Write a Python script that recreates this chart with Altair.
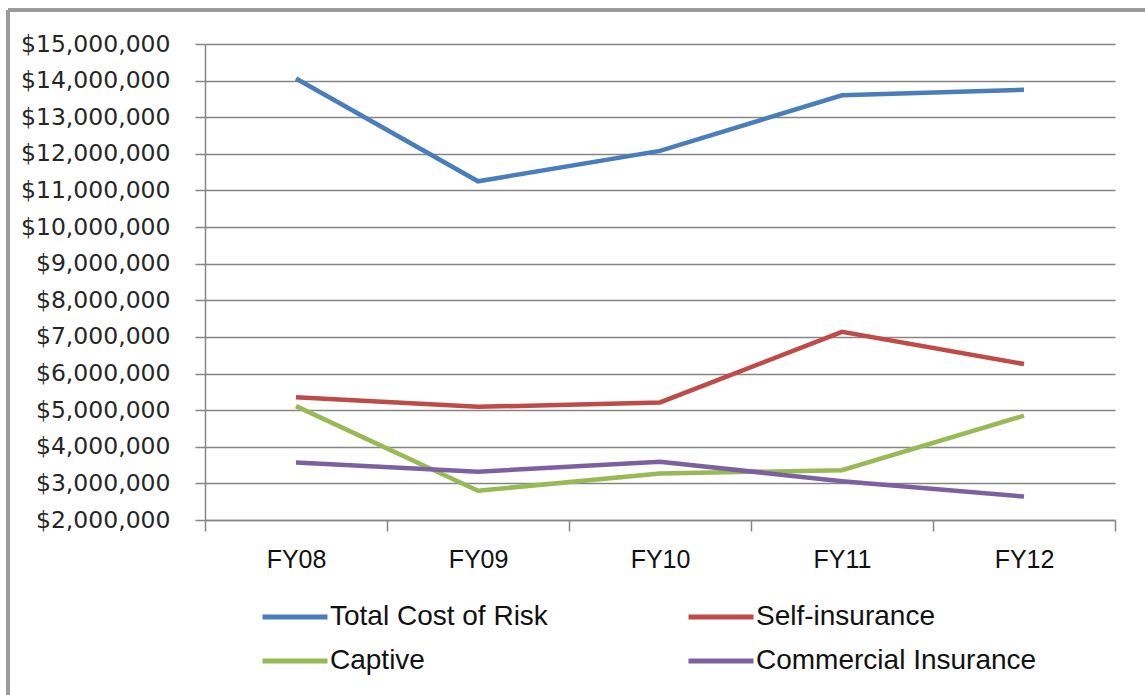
import altair as alt
import pandas as pd

years = ["FY08", "FY09", "FY10", "FY11", "FY12"]
series_names = ["Total Cost of Risk", "Self-insurance", "Captive", "Commercial Insurance"]
total_cost = [14060000, 11250000, 12080000, 13600000, 13750000]
self_insurance = [5350000, 5090000, 5210000, 7140000, 6260000]
captive = [5110000, 2800000, 3270000, 3360000, 4850000]
commercial = [3570000, 3320000, 3590000, 3060000, 2640000]
y_ticks = [2000000 + 1000000 * i for i in range(14)]
colors = ["#4A7EBB", "#BE4B48", "#98B954", "#7D60A0"]

rows = []
for name, vals in zip(series_names, [total_cost, self_insurance, captive, commercial]):
    for yr, v in zip(years, vals):
        rows.append({"Year": yr, "Series": name, "Value": v})
df = pd.DataFrame(rows)

PLOT_W, PLOT_H = 910, 476
LEFT, TOP = 205, 44

lines = alt.Chart(df).mark_line(strokeWidth=4.5).encode(
    x=alt.X("Year:O", sort=years, bandPosition=0.5,
            scale=alt.Scale(type="band", domain=years, paddingInner=0, paddingOuter=0),
            axis=alt.Axis(title=None, labelAngle=0, grid=False, tickBand="extent",
                          domainColor="#868686", domainWidth=1.5,
                          tickColor="#868686", tickWidth=1.5, tickSize=11,
                          labelFont="Liberation Sans", labelFontSize=25,
                          labelColor="#111111", labelPadding=16)),
    y=alt.Y("Value:Q",
            scale=alt.Scale(domain=[2000000, 15000000], nice=False, zero=False),
            axis=alt.Axis(title=None, values=y_ticks, format="$,.0f",
                          grid=True, gridColor="#868686", gridWidth=1.5,
                          domainColor="#868686", domainWidth=1.5,
                          tickColor="#868686", tickWidth=1.5, tickSize=10,
                          labelFont="DejaVu Sans", labelFontSize=23.5,
                          labelColor="#262626", labelPadding=25)),
    color=alt.Color("Series:N",
                    scale=alt.Scale(domain=series_names, range=colors),
                    legend=alt.Legend(title=None, orient="none", direction="horizontal",
                                      legendX=55, legendY=551,
                                      columns=2, columnPadding=138, rowPadding=0,
                                      clipHeight=44,
                                      symbolType="stroke", symbolSize=4225,
                                      symbolStrokeWidth=5, labelOffset=0,
                                      labelFont="Liberation Sans", labelFontSize=28,
                                      labelColor="#111111", labelLimit=400)),
)

border_top = alt.Chart(df).mark_rule(color="#9a9a9a", strokeWidth=2.5).encode(
    x=alt.value(8 - LEFT), x2=alt.value(1150 - LEFT), y=alt.value(10 - TOP)
)
border_left = alt.Chart(df).mark_rule(color="#9a9a9a", strokeWidth=2.5).encode(
    x=alt.value(8 - LEFT), y=alt.value(10 - TOP), y2=alt.value(700 - TOP)
)

chart = alt.layer(border_top, border_left, lines).properties(
    width=PLOT_W, height=PLOT_H,
    autosize=alt.AutoSizeParams(type="none"),
    padding={"left": LEFT, "top": TOP, "right": 1145 - LEFT - PLOT_W, "bottom": 695 - TOP - PLOT_H},
    background="white",
).configure_view(stroke=None)

chart.save("out.html", embed_options={"renderer": "svg", "actions": False})
